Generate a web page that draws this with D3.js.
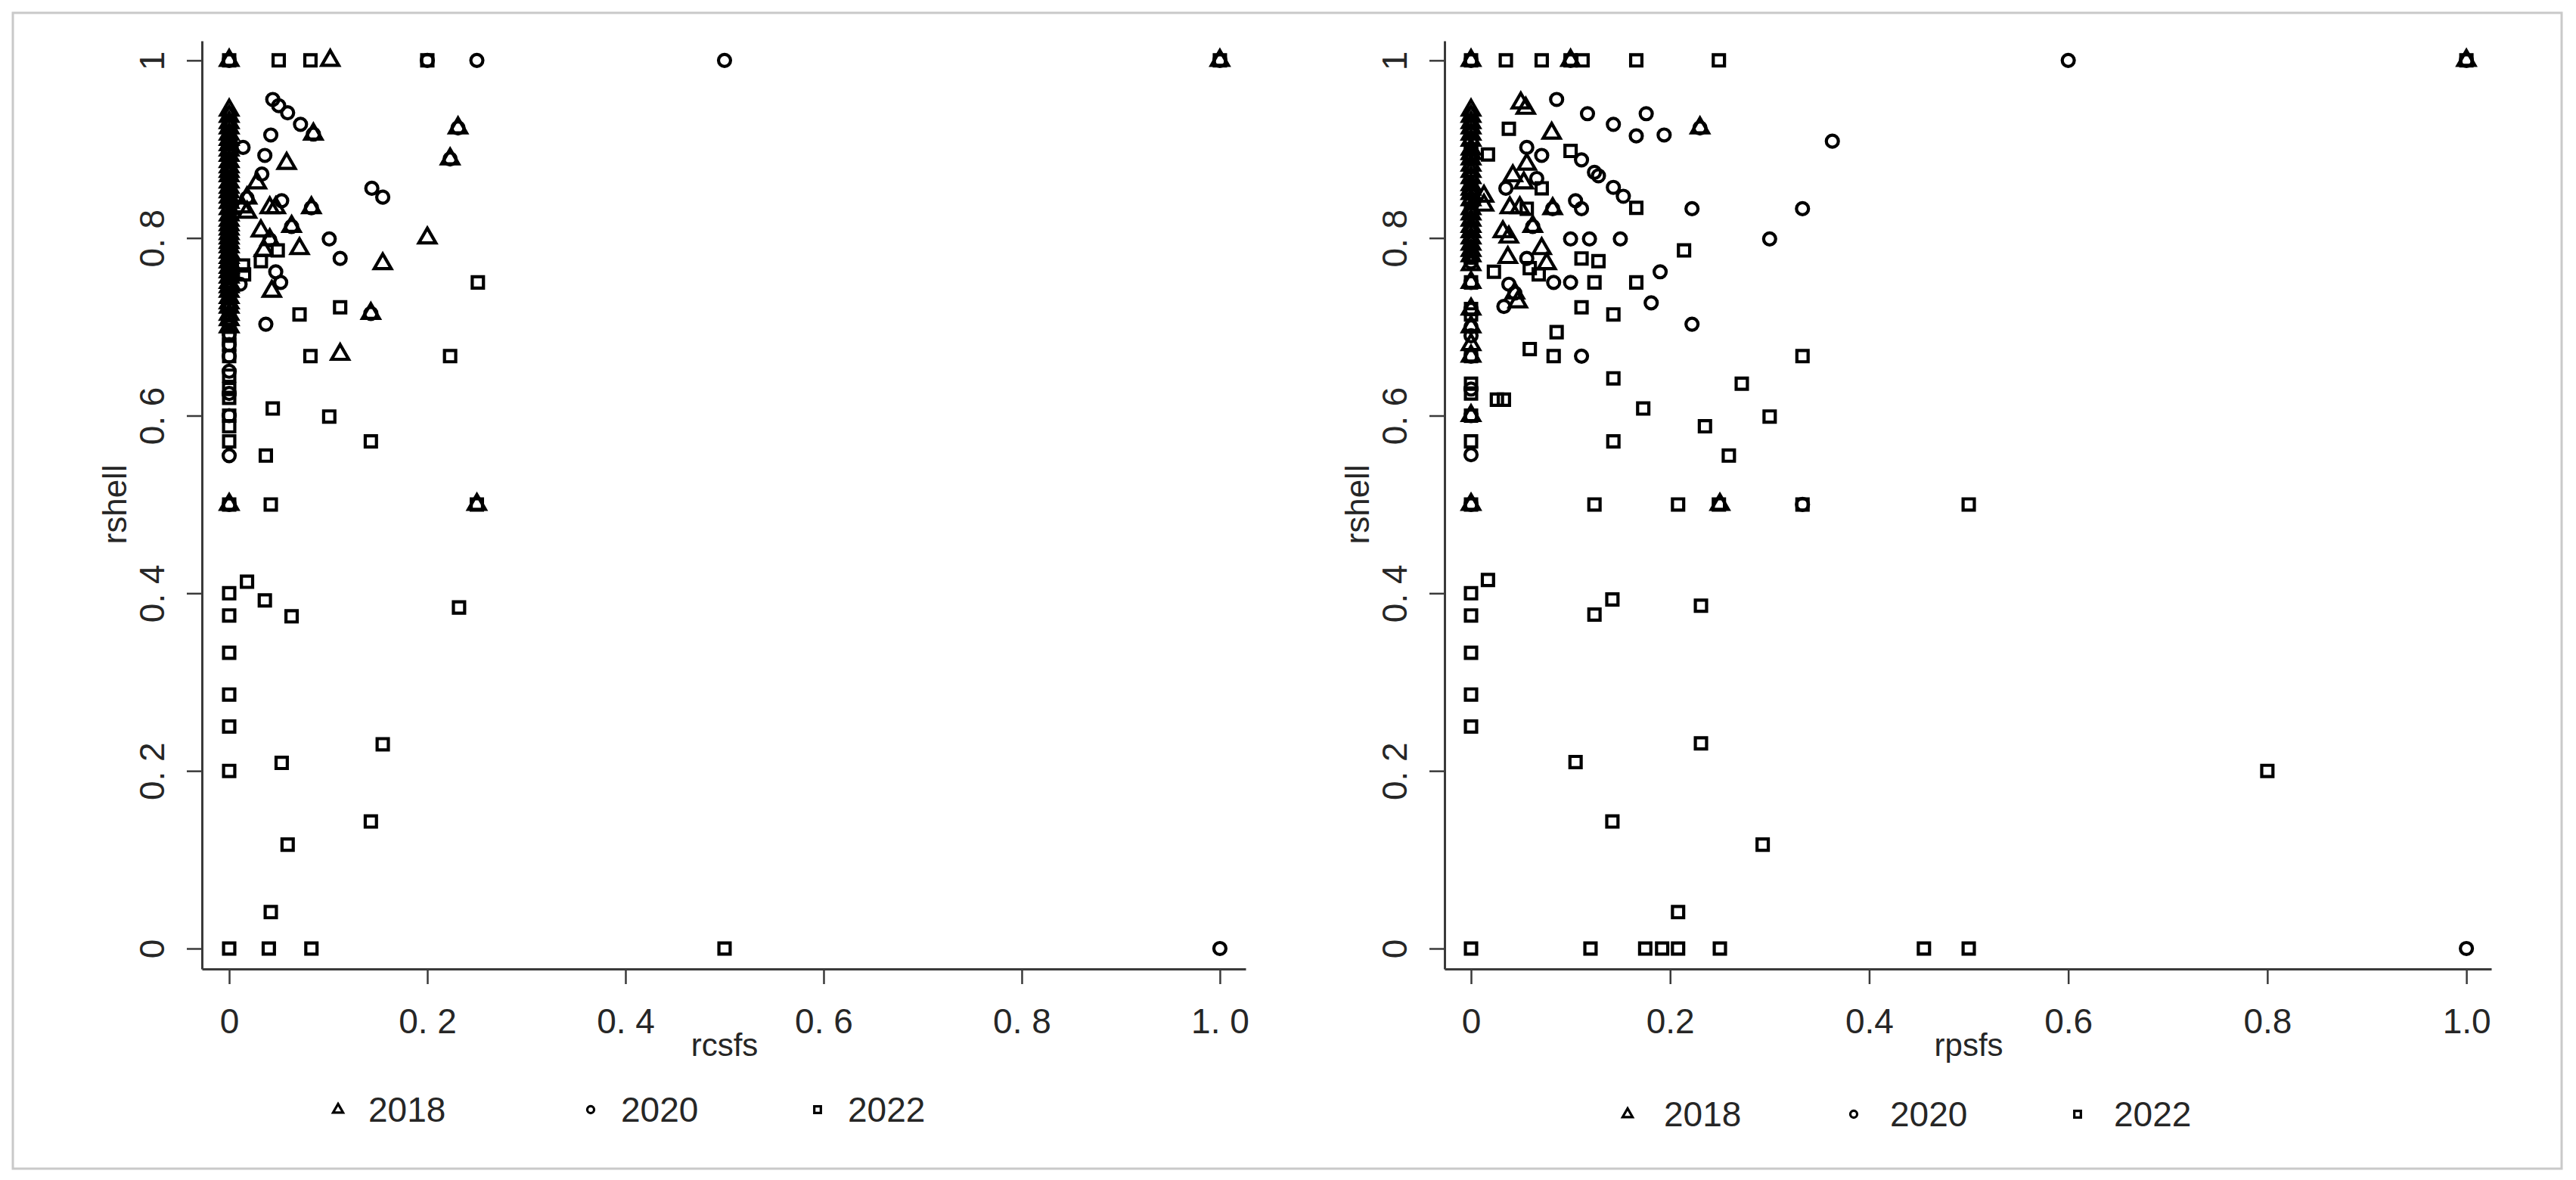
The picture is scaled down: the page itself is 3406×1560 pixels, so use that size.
<!DOCTYPE html>
<html>
<head>
<meta charset="utf-8">
<script src="https://cdn.jsdelivr.net/npm/d3@7"></script>
<style>
    body { margin: 0; background: #fff; }
    text { font-family: "Liberation Sans", Arial, sans-serif; fill: #262626; }
</style>
</head>
<body>
<svg id="chart" width="3406" height="1560"></svg>
<script>

var years = ["2018", "2020", "2022"];
var xTicks = [0, 0.2, 0.4, 0.6, 0.8, 1];
var yTicks = [0, 0.2, 0.4, 0.6, 0.8, 1];
var leftXLabels = ["0", "0. 2", "0. 4", "0. 6", "0. 8", "1. 0"];
var rightXLabels = ["0", "0.2", "0.4", "0.6", "0.8", "1.0"];
var yLabels = ["0", "0. 2", "0. 4", "0. 6", "0. 8", "1"];

// left panel : rcsfs / rshell
var rcsfs2018 = [
    [0, 1], [0, 0.944], [0, 0.937], [0, 0.93], [0, 0.924], [0, 0.917], [0, 0.911], [0, 0.905],
    [0, 0.899], [0, 0.893], [0, 0.886], [0, 0.88], [0, 0.875], [0, 0.87], [0, 0.863], [0, 0.857],
    [0, 0.852], [0, 0.846], [0, 0.84], [0, 0.833], [0, 0.826], [0, 0.82], [0, 0.815], [0, 0.81],
    [0, 0.805], [0, 0.8], [0, 0.795], [0, 0.79], [0, 0.784], [0, 0.778], [0, 0.773], [0, 0.767],
    [0, 0.762], [0, 0.756], [0, 0.75], [0, 0.745], [0, 0.74], [0, 0.733], [0, 0.727], [0, 0.722],
    [0, 0.714], [0, 0.708], [0, 0.7], [0, 0.5],
    [0.102, 1], [0.085, 0.917], [0.058, 0.884], [0.028, 0.862], [0.231, 0.924], [0.223, 0.889],
    [0.018, 0.845], [0.013, 0.835], [0.018, 0.829], [0.041, 0.834], [0.047, 0.834], [0.083, 0.834],
    [0.063, 0.813], [0.032, 0.808], [0.041, 0.798], [0.2, 0.8], [0.035, 0.786], [0.071, 0.788],
    [0.155, 0.771], [0.043, 0.74], [0.143, 0.715], [0.112, 0.669], [0.25, 0.5], [1, 1]
];
var rcsfs2020 = [
    [0, 1], [0, 0.94], [0, 0.93], [0, 0.92], [0, 0.91], [0, 0.9], [0, 0.895], [0, 0.889],
    [0, 0.882], [0, 0.875], [0, 0.867], [0, 0.86], [0, 0.855], [0, 0.85], [0, 0.842], [0, 0.833],
    [0, 0.825], [0, 0.818], [0, 0.81], [0, 0.8], [0, 0.793], [0, 0.786], [0, 0.78], [0, 0.77],
    [0, 0.76], [0, 0.75], [0, 0.742], [0, 0.735], [0, 0.727], [0, 0.72], [0, 0.714], [0, 0.706],
    [0, 0.692], [0, 0.68], [0, 0.667], [0, 0.65], [0, 0.625], [0, 0.6], [0, 0.555], [0, 0.5],
    [0.25, 1], [0.5, 1], [1, 1], [0.2, 1], [0.044, 0.956], [0.05, 0.949], [0.059, 0.941],
    [0.072, 0.928], [0.085, 0.917], [0.042, 0.916], [0.014, 0.902], [0.036, 0.893], [0.033, 0.872],
    [0.231, 0.924], [0.223, 0.889], [0.144, 0.856], [0.155, 0.846], [0.018, 0.845], [0.053, 0.842],
    [0.083, 0.834], [0.063, 0.813], [0.041, 0.798], [0.101, 0.799], [0.112, 0.777], [0.011, 0.748],
    [0.047, 0.762], [0.052, 0.75], [0.143, 0.715], [0.037, 0.703], [1, 0]
];
var rcsfs2022 = [
    [0, 1], [0, 0.857], [0, 0.833], [0, 0.8], [0, 0.778], [0, 0.765], [0, 0.75], [0, 0.733],
    [0, 0.72], [0, 0.7], [0, 0.69], [0, 0.68], [0, 0.667], [0, 0.645], [0, 0.63], [0, 0.62],
    [0, 0.6], [0, 0.588], [0, 0.571], [0, 0.5], [0, 0.4], [0, 0.375], [0, 0.333], [0, 0.286],
    [0, 0.25], [0, 0.2], [0, 0],
    [0.05, 1], [0.082, 1], [0.2, 1], [0.049, 0.786], [0.032, 0.774], [0.014, 0.769], [0.015, 0.759],
    [0.251, 0.75], [0.112, 0.722], [0.071, 0.714], [0.082, 0.667], [0.223, 0.667], [0.044, 0.608],
    [0.101, 0.599], [0.143, 0.571], [0.037, 0.555], [0.042, 0.5], [0.25, 0.5], [0.018, 0.413],
    [0.036, 0.392], [0.063, 0.374], [0.232, 0.384], [0.155, 0.23], [0.053, 0.209], [0.143, 0.143],
    [0.059, 0.117], [0.042, 0.041], [0.04, 0], [0.083, 0], [0.5, 0], [1, 1]
];

// right panel : rpsfs / rshell
var rpsfs2018 = [
    [0, 1], [0, 0.944], [0, 0.937], [0, 0.93], [0, 0.924], [0, 0.917], [0, 0.91], [0, 0.9],
    [0, 0.895], [0, 0.889], [0, 0.882], [0, 0.875], [0, 0.868], [0, 0.86], [0, 0.855], [0, 0.85],
    [0, 0.843], [0, 0.833], [0, 0.827], [0, 0.82], [0, 0.813], [0, 0.807], [0, 0.8], [0, 0.793],
    [0, 0.786], [0, 0.78], [0, 0.77], [0, 0.75], [0, 0.72], [0, 0.7], [0, 0.68], [0, 0.667],
    [0, 0.6], [0, 0.5],
    [0.05, 0.952], [0.055, 0.946], [0.081, 0.918], [0.23, 0.924], [0.056, 0.883], [0.042, 0.87],
    [0.053, 0.862], [0.013, 0.847], [0.013, 0.837], [0.039, 0.834], [0.049, 0.834], [0.082, 0.833],
    [0.062, 0.813], [0.032, 0.807], [0.038, 0.801], [0.071, 0.788], [0.037, 0.778], [0.076, 0.771],
    [0.044, 0.738], [0.047, 0.728], [0.1, 1], [0.25, 0.5], [1, 1]
];
var rpsfs2020 = [
    [0, 1], [0, 0.94], [0, 0.93], [0, 0.92], [0, 0.91], [0, 0.9], [0, 0.89], [0, 0.88],
    [0, 0.87], [0, 0.86], [0, 0.85], [0, 0.84], [0, 0.83], [0, 0.82], [0, 0.81], [0, 0.8],
    [0, 0.79], [0, 0.78], [0, 0.773], [0, 0.75], [0, 0.72], [0, 0.7], [0, 0.69], [0, 0.667],
    [0, 0.63], [0, 0.6], [0, 0.556], [0, 0.5],
    [0.086, 0.956], [0.117, 0.94], [0.176, 0.94], [0.143, 0.928], [0.166, 0.915], [0.194, 0.916],
    [0.23, 0.924], [0.363, 0.909], [0.056, 0.902], [0.071, 0.893], [0.111, 0.888], [0.124, 0.874],
    [0.128, 0.87], [0.143, 0.857], [0.153, 0.847], [0.222, 0.833], [0.333, 0.833], [0.035, 0.856],
    [0.066, 0.867], [0.105, 0.842], [0.111, 0.833], [0.082, 0.833], [0.062, 0.813], [0.1, 0.799],
    [0.119, 0.799], [0.15, 0.799], [0.3, 0.799], [0.056, 0.777], [0.083, 0.75], [0.1, 0.75],
    [0.19, 0.762], [0.038, 0.748], [0.044, 0.738], [0.033, 0.723], [0.181, 0.727], [0.222, 0.703],
    [0.111, 0.667], [0.333, 0.5], [0.6, 1], [1, 1], [1, 0], [0.1, 1]
];
var rpsfs2022 = [
    [0, 1], [0, 0.92], [0, 0.9], [0, 0.85], [0, 0.833], [0, 0.8], [0, 0.778], [0, 0.75],
    [0, 0.72], [0, 0.714], [0, 0.667], [0, 0.636], [0, 0.625], [0, 0.6], [0, 0.571], [0, 0.5],
    [0, 0.4], [0, 0.375], [0, 0.333], [0, 0.286], [0, 0.25], [0, 0],
    [0.035, 1], [0.071, 1], [0.1, 1], [0.112, 1], [0.166, 1], [0.249, 1], [0.038, 0.923],
    [0.017, 0.894], [0.1, 0.898], [0.166, 0.834], [0.071, 0.856], [0.056, 0.833], [0.214, 0.786],
    [0.111, 0.777], [0.128, 0.774], [0.059, 0.766], [0.068, 0.759], [0.023, 0.762], [0.124, 0.75],
    [0.166, 0.75], [0.111, 0.722], [0.143, 0.714], [0.086, 0.694], [0.059, 0.675], [0.083, 0.667],
    [0.333, 0.667], [0.143, 0.642], [0.272, 0.636], [0.026, 0.618], [0.033, 0.618], [0.173, 0.608],
    [0.3, 0.599], [0.235, 0.588], [0.143, 0.571], [0.259, 0.555], [0.124, 0.5], [0.208, 0.5],
    [0.249, 0.5], [0.333, 0.5], [0.5, 0.5], [0.017, 0.415], [0.124, 0.376], [0.142, 0.393],
    [0.231, 0.386], [0.231, 0.231], [0.105, 0.21], [0.8, 0.2], [0.142, 0.143], [0.293, 0.117],
    [0.208, 0.041], [0.12, 0], [0.175, 0], [0.192, 0], [0.208, 0], [0.25, 0], [0.455, 0],
    [0.5, 0], [1, 1]
];


var svg = d3.select("#chart");

// outer frame
svg.append("rect")
    .attr("x", 17)
    .attr("y", 17)
    .attr("width", 3370)
    .attr("height", 1528)
    .attr("fill", "none")
    .attr("stroke", "#c9c9c9")
    .attr("stroke-width", 3);

var shapes = [d3.symbolTriangle, d3.symbolCircle, d3.symbolSquare];
var markerSize = [220, 200, 220];
var legendSize = [75, 65, 75];

var y = d3.scaleLinear()
    .domain([-0.023, 1.022])
    .range([1281, 54]);

function drawPanel(p) {

    var x = d3.scaleLinear()
        .domain(p.xDomain)
        .range(p.xRange);

    var g = svg.append("g").attr("class", "panel");

    // x axis
    var xAxis = g.append("g")
        .attr("transform", "translate(0," + y.range()[0] + ")")
        .call(d3.axisBottom(x)
            .tickValues(xTicks)
            .tickFormat(function (d, i) { return p.xLabels[i]; })
            .tickSize(20)
            .tickSizeOuter(0)
            .tickPadding(32));

    // y axis
    var yAxis = g.append("g")
        .attr("transform", "translate(" + x.range()[0] + ",0)")
        .call(d3.axisLeft(y)
            .tickValues(yTicks)
            .tickFormat(function (d, i) { return yLabels[i]; })
            .tickSize(20)
            .tickSizeOuter(0));

    [xAxis, yAxis].forEach(function (a) {
        a.select(".domain").attr("stroke", "#3a3a3a").attr("stroke-width", 3);
        a.selectAll(".tick line").attr("stroke", "#3a3a3a").attr("stroke-width", 2.5);
        a.selectAll("text").attr("font-size", 46).attr("fill", "#262626")
            .style("font-family", '"Liberation Sans", Arial, sans-serif');
    });

    yAxis.selectAll(".tick text")
        .attr("x", 0)
        .attr("dy", null)
        .attr("text-anchor", "middle")
        .attr("dominant-baseline", "central")
        .attr("transform", "translate(-66,0) rotate(-90)");

    // axis titles
    g.append("text")
        .attr("x", x(0.5))
        .attr("y", 1396)
        .attr("text-anchor", "middle")
        .attr("font-size", 42)
        .text(p.xTitle);

    g.append("text")
        .attr("transform", "translate(" + (x.range()[0] - 116) + "," + y(0.5) + ") rotate(-90)")
        .attr("text-anchor", "middle")
        .attr("dominant-baseline", "central")
        .attr("font-size", 44)
        .text("rshell");

    // markers
    p.series.forEach(function (data, i) {
        g.append("g")
            .attr("class", "s" + years[i])
            .selectAll("path")
            .data(data)
            .enter()
            .append("path")
            .attr("d", d3.symbol().type(shapes[i]).size(markerSize[i]))
            .attr("transform", function (d) { return "translate(" + x(d[0]) + "," + y(d[1]) + ")"; })
            .attr("fill", "none")
            .attr("stroke", "#000")
            .attr("stroke-width", 4.2);
    });

    // legend
    var leg = g.append("g")
        .attr("transform", "translate(0," + p.legendY + ")");

    years.forEach(function (yr, i) {
        leg.append("path")
            .attr("d", d3.symbol().type(shapes[i]).size(legendSize[i]))
            .attr("transform", "translate(" + p.legendX[i] + ",0)")
            .attr("fill", "none")
            .attr("stroke", "#000")
            .attr("stroke-width", 3.2);
        leg.append("text")
            .attr("x", p.legendX[i] + p.legendGap)
            .attr("y", 0)
            .attr("dominant-baseline", "central")
            .attr("font-size", 46)
            .text(yr);
    });
}

drawPanel({
    xDomain: [-0.0275, 1.026],
    xRange: [267, 1647],
    xLabels: leftXLabels,
    xTitle: "rcsfs",
    series: [rcsfs2018, rcsfs2020, rcsfs2022],
    legendY: 1467,
    legendX: [447, 781, 1081],
    legendGap: 40
});

drawPanel({
    xDomain: [-0.0266, 1.025],
    xRange: [1910, 3294],
    xLabels: rightXLabels,
    xTitle: "rpsfs",
    series: [rpsfs2018, rpsfs2020, rpsfs2022],
    legendY: 1473,
    legendX: [2152, 2451, 2747],
    legendGap: 48
});

</script>
</body>
</html>
